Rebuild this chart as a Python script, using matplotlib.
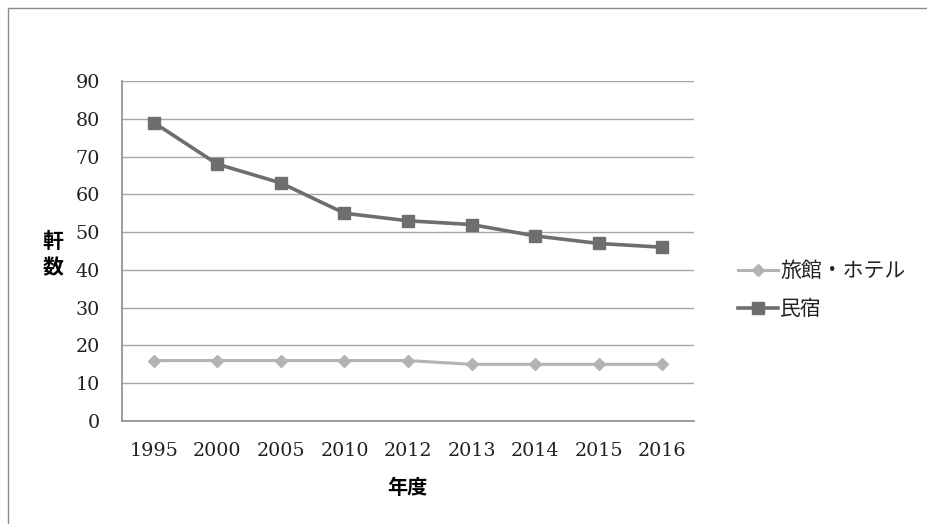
import matplotlib
matplotlib.use('Agg')
import matplotlib.pyplot as plt
from matplotlib.patches import Rectangle

years = ['1995', '2000', '2005', '2010', '2012', '2013', '2014', '2015', '2016']
ryokan = [16, 16, 16, 16, 16, 15, 15, 15, 15]
minshuku = [79, 68, 63, 55, 53, 52, 49, 47, 46]

JP = ['Noto Sans CJK JP', 'DejaVu Sans']
SERIF = 'DejaVu Serif'

fig = plt.figure(figsize=(9.28, 5.24), dpi=100)

# outer chart frame (runs off the right and bottom edges)
fig.patches.append(Rectangle((8 / 928, -0.1), 1.1, 1 - 8 / 524 + 0.1,
                             transform=fig.transFigure, fill=False,
                             edgecolor='#8c8c8c', linewidth=1.0))

ax = fig.add_axes([122 / 928, 1 - 421 / 524, 572 / 928, 340 / 524])
x = list(range(len(years)))

ax.plot(x, ryokan, color='#b3b3b3', linewidth=2.2, marker='D', markersize=6,
        markerfacecolor='#b3b3b3', markeredgecolor='#b3b3b3', label='旅館・ホテル')
ax.plot(x, minshuku, color='#6e6e6e', linewidth=2.6, marker='s', markersize=8,
        markerfacecolor='#6e6e6e', markeredgecolor='#6e6e6e', label='民宿')

ax.set_xlim(-0.5, len(years) - 0.5)
ax.set_ylim(0, 90)
ax.set_yticks(range(0, 91, 10))
ax.set_xticks(x)
ax.set_xticklabels(years)
ax.grid(axis='y', color='#a6a6a6', linewidth=1.0)
ax.set_axisbelow(True)
for s in ['top', 'right']:
    ax.spines[s].set_visible(False)
for s in ['left', 'bottom']:
    ax.spines[s].set_color('#8c8c8c')
    ax.spines[s].set_linewidth(1.2)
ax.tick_params(length=0, labelsize=13.8)
ax.tick_params(axis='x', pad=15)
ax.tick_params(axis='y', pad=16)
for lbl in ax.get_xticklabels() + ax.get_yticklabels():
    lbl.set_family(SERIF)
    lbl.set_color('#222222')

fig.text(407 / 928, 1 - 487 / 524, '年度', family=JP, fontsize=14.5,
         fontweight='bold', ha='center', va='center')
fig.text(53 / 928, 1 - 254.5 / 524, '軒\n数', family=JP, fontsize=15,
         fontweight='bold', ha='center', va='center', linespacing=1.3)

leg = ax.legend(loc='center left', bbox_to_anchor=(1.045, 0.385), frameon=False,
                prop={'family': JP, 'size': 15}, handlelength=1.9,
                handletextpad=0.1, labelspacing=0.78)
for t in leg.get_texts():
    t.set_color('#222222')

fig.savefig('out.png', dpi=100)
